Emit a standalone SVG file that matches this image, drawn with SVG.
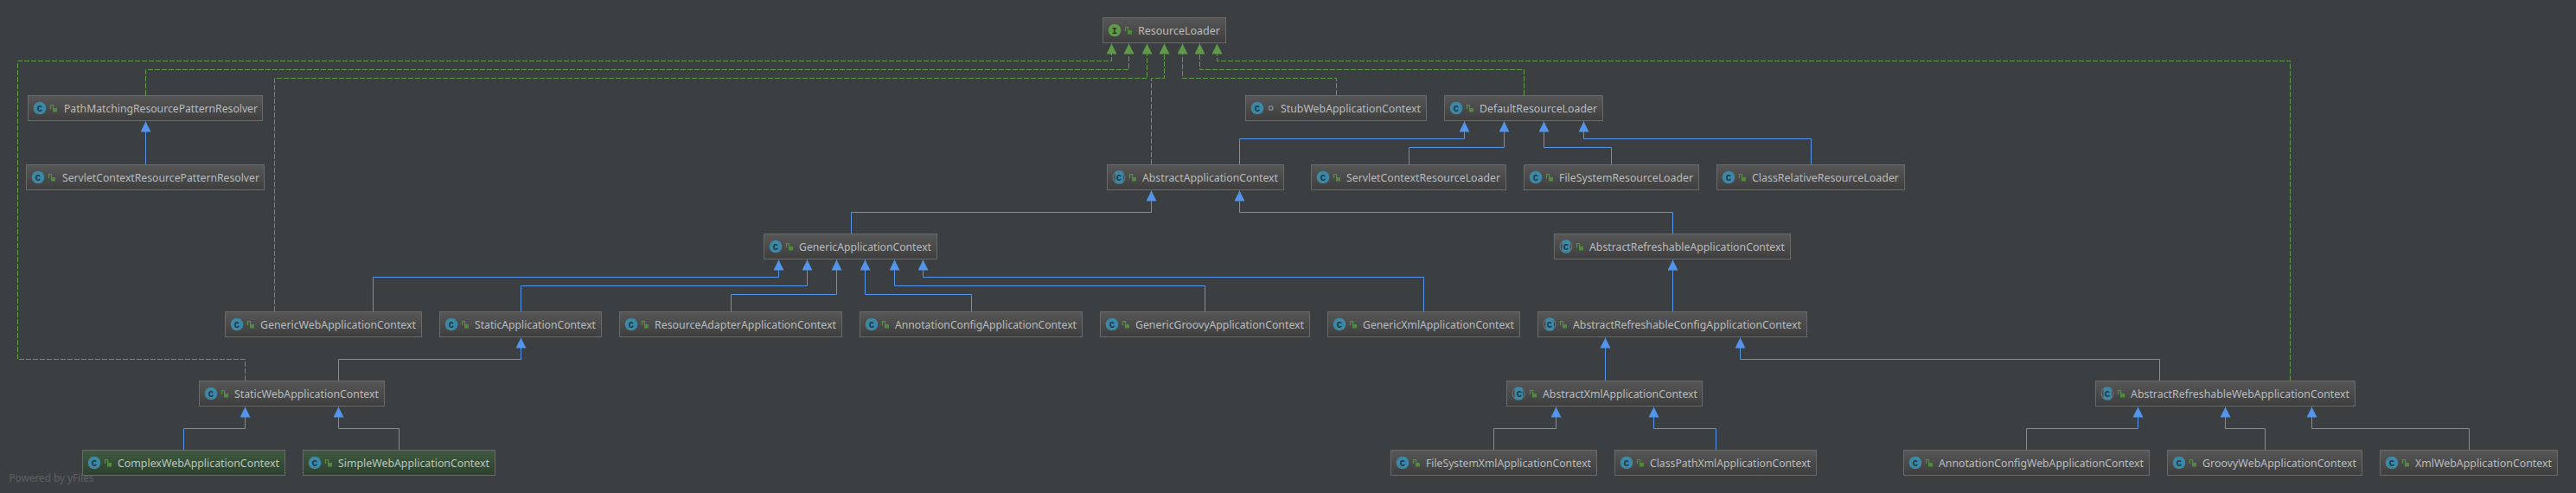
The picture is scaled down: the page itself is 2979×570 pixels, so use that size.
<svg xmlns="http://www.w3.org/2000/svg" xmlns:xlink="http://www.w3.org/1999/xlink" width="2979" height="570" viewBox="0 0 2979 570">
<style>
.t{font-family:"Noto Sans","Liberation Sans",sans-serif;font-size:12.5px;fill:#b8bcbf}
.g .t{fill:#b9c6bb}
.box{fill:url(#gr);stroke:#6a6a6a;stroke-width:1}
.g .box{fill:url(#gg)}
.ltr{font-family:"Liberation Mono",monospace;font-size:10.5px;font-weight:bold;fill:#173545;text-anchor:middle}
.ltri{fill:#26381c}
.ext,.dep{fill:none;stroke-width:1}
.ext{stroke:#5394ec;marker-end:url(#ah)}
.dep{stroke:#5f9a48;stroke-dasharray:6 2;marker-end:url(#ai)}
.pw{font-family:"Noto Sans","Liberation Sans",sans-serif;font-size:12.5px;fill:#5e6163}
</style>
<defs>
<linearGradient id="gr" x1="0" y1="0" x2="0" y2="1"><stop offset="0" stop-color="#575757"/><stop offset="1" stop-color="#3e3e3e"/></linearGradient>
<linearGradient id="gg" x1="0" y1="0" x2="0" y2="1"><stop offset="0" stop-color="#3f5a3f"/><stop offset="1" stop-color="#2d402f"/></linearGradient>
<marker id="ah" markerUnits="userSpaceOnUse" markerWidth="13" markerHeight="13" refX="12" refY="6" orient="auto"><path d="M0 0L12 6L0 12Z" fill="#5394ec"/></marker>
<marker id="ai" markerUnits="userSpaceOnUse" markerWidth="13" markerHeight="13" refX="12" refY="6" orient="auto"><path d="M0 0L12 6L0 12Z" fill="#5f9a48"/></marker>
<g id="lock"><path d="M26.5 16V11.5H29.5V15" fill="none" stroke="#55903f" stroke-width="1.2"/><rect x="29" y="15" width="5" height="4.5" fill="#4f8c3a"/></g>
<circle id="cc" cx="14" cy="15" r="7.3" fill="#3e88a5"/>
<g id="ca"><circle cx="14" cy="15" r="7.5" fill="#66757d"/><circle cx="14" cy="15" r="6.4" fill="#45494b"/><rect x="9.5" y="7.6" width="9.4" height="14.8" rx="3" fill="#3e88a5"/></g>
<circle id="ci" cx="14" cy="15" r="7.3" fill="#5f9a48"/>
</defs>
<rect width="2979" height="570" fill="#3c3f41"/>
<text class="pw" x="10.5" y="557" textLength="98" lengthAdjust="spacingAndGlyphs">Powered by yFiles</text>
<g id="connectors">
<path class="dep" d="M283.5 440V415.5H20.5V70.5H1285.5V50.5"/>
<path class="dep" d="M168.5 110V80.5H1305.5V50.5"/>
<path class="dep" d="M317.5 360V90.5H1326.5V50.5"/>
<path class="dep" d="M1331.5 190V90.5H1346.5V50.5"/>
<path class="dep" d="M1545.5 110V90.5H1367.5V50.5"/>
<path class="dep" d="M1762.5 110V80.5H1387.5V50.5"/>
<path class="dep" d="M2648.5 440V70.5H1407.5V50.5"/>
<path class="ext" d="M168.5 190V140.5"/>
<path class="ext" d="M1433.5 190V160.5H1693.5V140.5"/>
<path class="ext" d="M1629.5 190V170.5H1739.5V140.5"/>
<path class="ext" d="M1863.5 190V170.5H1785.5V140.5"/>
<path class="ext" d="M2094.5 190V160.5H1831.5V140.5"/>
<path class="ext" d="M984.5 270V245.5H1331.5V220.5"/>
<path class="ext" d="M1934.5 270V245.5H1433.5V220.5"/>
<path class="ext" d="M431.5 360V320.5H900.5V300.5"/>
<path class="ext" d="M602.5 360V330.5H933.5V300.5"/>
<path class="ext" d="M845.5 360V340.5H967.5V300.5"/>
<path class="ext" d="M1123.5 360V340.5H1000.5V300.5"/>
<path class="ext" d="M1393.5 360V330.5H1034.5V300.5"/>
<path class="ext" d="M1646.5 360V320.5H1067.5V300.5"/>
<path class="ext" d="M1934.5 360V300.5"/>
<path class="ext" d="M391.5 440V415.5H602.5V390.5"/>
<path class="ext" d="M1856.5 440V390.5"/>
<path class="ext" d="M2497.5 440V415.5H2012.5V390.5"/>
<path class="ext" d="M212.5 520V495.5H283.5V470.5"/>
<path class="ext" d="M461.5 520V495.5H391.5V470.5"/>
<path class="ext" d="M1727.5 520V495.5H1799.5V470.5"/>
<path class="ext" d="M1984.5 520V495.5H1912.5V470.5"/>
<path class="ext" d="M2343.5 520V495.5H2472.5V470.5"/>
<path class="ext" d="M2619.5 520V495.5H2573.5V470.5"/>
<path class="ext" d="M2855.5 520V495.5H2673.5V470.5"/>
</g>
<g id="ResourceLoader" transform="translate(1275,20)"><rect class="box" x=".5" y=".5" width="142" height="29"/><use href="#ci"/><text class="ltr ltri" x="14" y="18.5">I</text><use href="#lock"/><text class="t" x="41" y="19.5" textLength="95" lengthAdjust="spacingAndGlyphs">ResourceLoader</text></g>
<g id="PathMatchingResourcePatternResolver" transform="translate(32,110)"><rect class="box" x=".5" y=".5" width="271" height="29"/><use href="#cc"/><text class="ltr" x="14" y="18.5">C</text><use href="#lock"/><text class="t" x="42" y="19.5" textLength="224" lengthAdjust="spacingAndGlyphs">PathMatchingResourcePatternResolver</text></g>
<g id="ServletContextResourcePatternResolver" transform="translate(30,190)"><rect class="box" x=".5" y=".5" width="275" height="29"/><use href="#cc"/><text class="ltr" x="14" y="18.5">C</text><use href="#lock"/><text class="t" x="42" y="19.5" textLength="228" lengthAdjust="spacingAndGlyphs">ServletContextResourcePatternResolver</text></g>
<g id="StubWebApplicationContext" transform="translate(1440,110)"><rect class="box" x=".5" y=".5" width="209" height="29"/><use href="#cc"/><text class="ltr" x="14" y="18.5">C</text><circle cx="29.7" cy="15" r="2.2" fill="#3f4244" stroke="#7f8a90" stroke-width="1.6"/><text class="t" x="41" y="19.5" textLength="162" lengthAdjust="spacingAndGlyphs">StubWebApplicationContext</text></g>
<g id="DefaultResourceLoader" transform="translate(1670,110)"><rect class="box" x=".5" y=".5" width="183" height="29"/><use href="#cc"/><text class="ltr" x="14" y="18.5">C</text><use href="#lock"/><text class="t" x="41" y="19.5" textLength="136" lengthAdjust="spacingAndGlyphs">DefaultResourceLoader</text></g>
<g id="AbstractApplicationContext" transform="translate(1280,190)"><rect class="box" x=".5" y=".5" width="204" height="29"/><use href="#ca"/><text class="ltr" x="14" y="18.5">C</text><use href="#lock"/><text class="t" x="41" y="19.5" textLength="157" lengthAdjust="spacingAndGlyphs">AbstractApplicationContext</text></g>
<g id="ServletContextResourceLoader" transform="translate(1516,190)"><rect class="box" x=".5" y=".5" width="225" height="29"/><use href="#cc"/><text class="ltr" x="14" y="18.5">C</text><use href="#lock"/><text class="t" x="41" y="19.5" textLength="178" lengthAdjust="spacingAndGlyphs">ServletContextResourceLoader</text></g>
<g id="FileSystemResourceLoader" transform="translate(1762,190)"><rect class="box" x=".5" y=".5" width="202" height="29"/><use href="#cc"/><text class="ltr" x="14" y="18.5">C</text><use href="#lock"/><text class="t" x="41" y="19.5" textLength="155" lengthAdjust="spacingAndGlyphs">FileSystemResourceLoader</text></g>
<g id="ClassRelativeResourceLoader" transform="translate(1985,190)"><rect class="box" x=".5" y=".5" width="217" height="29"/><use href="#cc"/><text class="ltr" x="14" y="18.5">C</text><use href="#lock"/><text class="t" x="41" y="19.5" textLength="170" lengthAdjust="spacingAndGlyphs">ClassRelativeResourceLoader</text></g>
<g id="GenericApplicationContext" transform="translate(883,270)"><rect class="box" x=".5" y=".5" width="200" height="29"/><use href="#cc"/><text class="ltr" x="14" y="18.5">C</text><use href="#lock"/><text class="t" x="41" y="19.5" textLength="153" lengthAdjust="spacingAndGlyphs">GenericApplicationContext</text></g>
<g id="AbstractRefreshableApplicationContext" transform="translate(1797,270)"><rect class="box" x=".5" y=".5" width="273" height="29"/><use href="#ca"/><text class="ltr" x="14" y="18.5">C</text><use href="#lock"/><text class="t" x="41" y="19.5" textLength="226" lengthAdjust="spacingAndGlyphs">AbstractRefreshableApplicationContext</text></g>
<g id="GenericWebApplicationContext" transform="translate(260,360)"><rect class="box" x=".5" y=".5" width="227" height="29"/><use href="#cc"/><text class="ltr" x="14" y="18.5">C</text><use href="#lock"/><text class="t" x="41" y="19.5" textLength="180" lengthAdjust="spacingAndGlyphs">GenericWebApplicationContext</text></g>
<g id="StaticApplicationContext" transform="translate(508,360)"><rect class="box" x=".5" y=".5" width="187" height="29"/><use href="#cc"/><text class="ltr" x="14" y="18.5">C</text><use href="#lock"/><text class="t" x="41" y="19.5" textLength="140" lengthAdjust="spacingAndGlyphs">StaticApplicationContext</text></g>
<g id="ResourceAdapterApplicationContext" transform="translate(716,360)"><rect class="box" x=".5" y=".5" width="257" height="29"/><use href="#cc"/><text class="ltr" x="14" y="18.5">C</text><use href="#lock"/><text class="t" x="41" y="19.5" textLength="210" lengthAdjust="spacingAndGlyphs">ResourceAdapterApplicationContext</text></g>
<g id="AnnotationConfigApplicationContext" transform="translate(994,360)"><rect class="box" x=".5" y=".5" width="257" height="29"/><use href="#cc"/><text class="ltr" x="14" y="18.5">C</text><use href="#lock"/><text class="t" x="41" y="19.5" textLength="210" lengthAdjust="spacingAndGlyphs">AnnotationConfigApplicationContext</text></g>
<g id="GenericGroovyApplicationContext" transform="translate(1272,360)"><rect class="box" x=".5" y=".5" width="242" height="29"/><use href="#cc"/><text class="ltr" x="14" y="18.5">C</text><use href="#lock"/><text class="t" x="41" y="19.5" textLength="195" lengthAdjust="spacingAndGlyphs">GenericGroovyApplicationContext</text></g>
<g id="GenericXmlApplicationContext" transform="translate(1535,360)"><rect class="box" x=".5" y=".5" width="222" height="29"/><use href="#cc"/><text class="ltr" x="14" y="18.5">C</text><use href="#lock"/><text class="t" x="41" y="19.5" textLength="175" lengthAdjust="spacingAndGlyphs">GenericXmlApplicationContext</text></g>
<g id="AbstractRefreshableConfigApplicationContext" transform="translate(1778,360)"><rect class="box" x=".5" y=".5" width="311" height="29"/><use href="#ca"/><text class="ltr" x="14" y="18.5">C</text><use href="#lock"/><text class="t" x="41" y="19.5" textLength="264" lengthAdjust="spacingAndGlyphs">AbstractRefreshableConfigApplicationContext</text></g>
<g id="StaticWebApplicationContext" transform="translate(230,440)"><rect class="box" x=".5" y=".5" width="214" height="29"/><use href="#cc"/><text class="ltr" x="14" y="18.5">C</text><use href="#lock"/><text class="t" x="41" y="19.5" textLength="167" lengthAdjust="spacingAndGlyphs">StaticWebApplicationContext</text></g>
<g id="AbstractXmlApplicationContext" transform="translate(1742,440)"><rect class="box" x=".5" y=".5" width="226" height="29"/><use href="#ca"/><text class="ltr" x="15" y="18.5">C</text><use href="#lock" x="1"/><text class="t" x="42" y="19.5" textLength="179" lengthAdjust="spacingAndGlyphs">AbstractXmlApplicationContext</text></g>
<g id="AbstractRefreshableWebApplicationContext" transform="translate(2423,440)"><rect class="box" x=".5" y=".5" width="300" height="29"/><use href="#ca"/><text class="ltr" x="14" y="18.5">C</text><use href="#lock"/><text class="t" x="41" y="19.5" textLength="253" lengthAdjust="spacingAndGlyphs">AbstractRefreshableWebApplicationContext</text></g>
<g id="ComplexWebApplicationContext" class="g" transform="translate(95,520)"><rect class="box" x=".5" y=".5" width="234" height="29"/><use href="#cc"/><text class="ltr" x="14" y="18.5">C</text><use href="#lock"/><text class="t" x="41" y="19.5" textLength="187" lengthAdjust="spacingAndGlyphs">ComplexWebApplicationContext</text></g>
<g id="SimpleWebApplicationContext" class="g" transform="translate(350,520)"><rect class="box" x=".5" y=".5" width="222" height="29"/><use href="#cc"/><text class="ltr" x="14" y="18.5">C</text><use href="#lock"/><text class="t" x="41" y="19.5" textLength="175" lengthAdjust="spacingAndGlyphs">SimpleWebApplicationContext</text></g>
<g id="FileSystemXmlApplicationContext" transform="translate(1608,520)"><rect class="box" x=".5" y=".5" width="238" height="29"/><use href="#cc"/><text class="ltr" x="14" y="18.5">C</text><use href="#lock"/><text class="t" x="41" y="19.5" textLength="191" lengthAdjust="spacingAndGlyphs">FileSystemXmlApplicationContext</text></g>
<g id="ClassPathXmlApplicationContext" transform="translate(1867,520)"><rect class="box" x=".5" y=".5" width="233" height="29"/><use href="#cc"/><text class="ltr" x="14" y="18.5">C</text><use href="#lock"/><text class="t" x="41" y="19.5" textLength="186" lengthAdjust="spacingAndGlyphs">ClassPathXmlApplicationContext</text></g>
<g id="AnnotationConfigWebApplicationContext" transform="translate(2201,520)"><rect class="box" x=".5" y=".5" width="284" height="29"/><use href="#cc"/><text class="ltr" x="14" y="18.5">C</text><use href="#lock"/><text class="t" x="41" y="19.5" textLength="237" lengthAdjust="spacingAndGlyphs">AnnotationConfigWebApplicationContext</text></g>
<g id="GroovyWebApplicationContext" transform="translate(2506,520)"><rect class="box" x=".5" y=".5" width="225" height="29"/><use href="#cc"/><text class="ltr" x="14" y="18.5">C</text><use href="#lock"/><text class="t" x="41" y="19.5" textLength="178" lengthAdjust="spacingAndGlyphs">GroovyWebApplicationContext</text></g>
<g id="XmlWebApplicationContext" transform="translate(2752,520)"><rect class="box" x=".5" y=".5" width="205" height="29"/><use href="#cc"/><text class="ltr" x="14" y="18.5">C</text><use href="#lock"/><text class="t" x="41" y="19.5" textLength="158" lengthAdjust="spacingAndGlyphs">XmlWebApplicationContext</text></g>
</svg>
